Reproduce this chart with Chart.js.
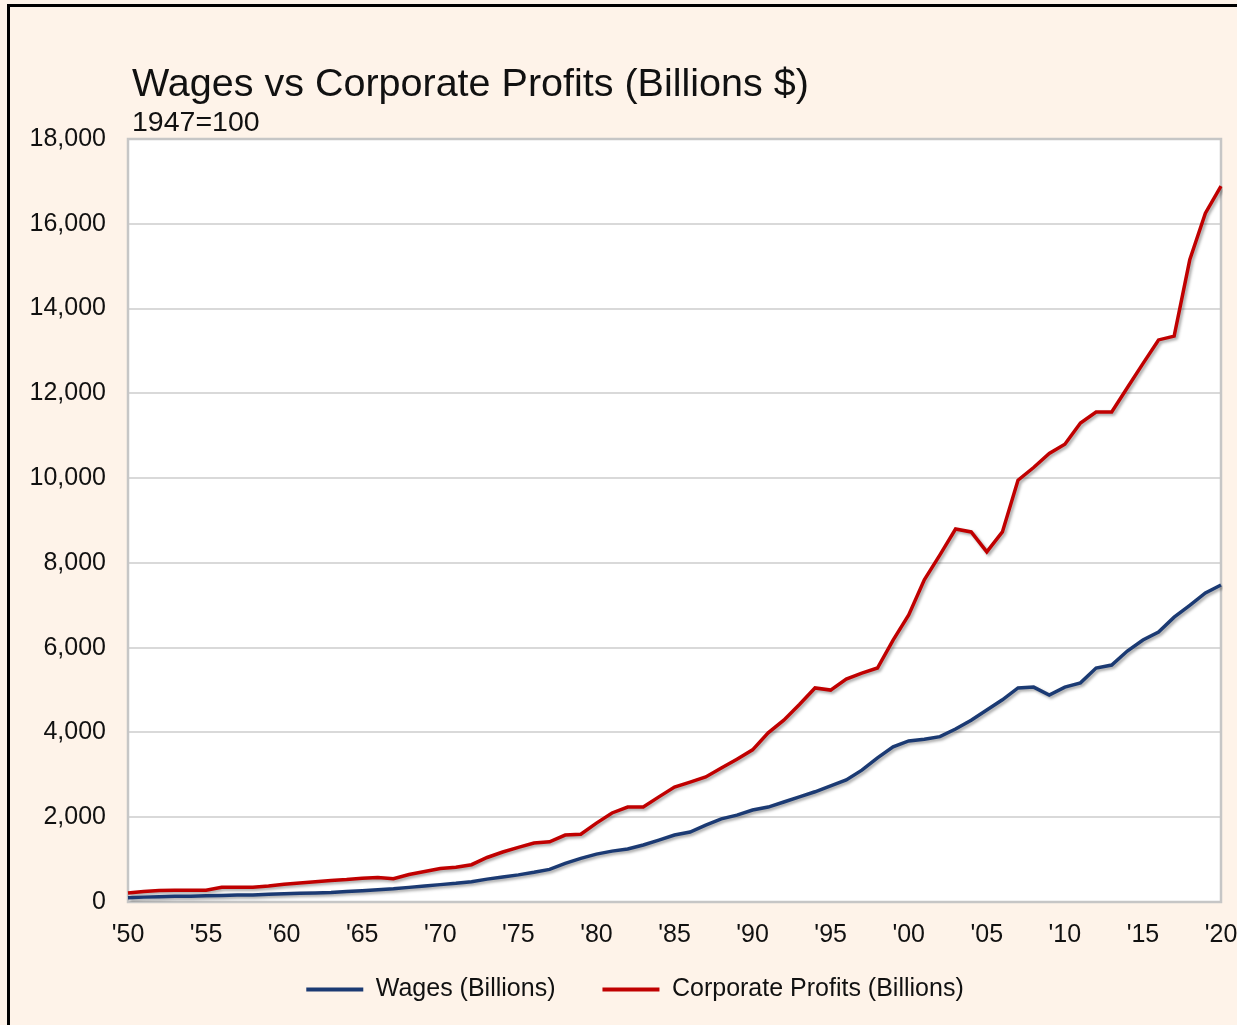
<!DOCTYPE html>
<html>
<head>
<meta charset="utf-8">
<script src="https://cdn.jsdelivr.net/npm/chart.js@4/dist/chart.umd.min.js"></script>
<style>
  html, body { margin: 0; padding: 0; overflow: hidden; background: #fef3e9; }
  body { width: 1237px; height: 1025px; position: relative; font-family: "Liberation Sans", Arial, sans-serif; }
  #frame { position: absolute; left: 7px; top: 4px; width: 1300px; height: 1100px; border-left: 3px solid #000; border-top: 3px solid #000; }
  #title { position: absolute; left: 132px; top: 63px; font-size: 39.5px; line-height: 1; color: #111; white-space: nowrap; }
  #subtitle { position: absolute; left: 132px; top: 107px; font-size: 28.5px; line-height: 1; color: #111; white-space: nowrap; }
  #wrap { position: absolute; left: 0; top: 0; width: 1260px; height: 1025px; }
</style>
</head>
<body>
<div id="frame"></div>
<div id="wrap"><canvas id="chart"></canvas></div>
<div id="title">Wages vs Corporate Profits (Billions $)</div>
<div id="subtitle">1947=100</div>
<script>
// years 1950..2020
const years = [];
for (let y = 1950; y <= 2020; y++) years.push(y);

const wages = [
  100, 115, 125, 135, 135, 145, 155, 165, 165, 180,
  195, 205, 215, 225, 245, 265, 290, 310, 345, 380,
  410, 440, 480, 540, 590, 640, 700, 770, 910, 1030,
  1130, 1200, 1250, 1345, 1460, 1580, 1650, 1815, 1960, 2050,
  2170, 2240, 2360, 2480, 2600, 2740, 2880, 3110, 3400, 3660,
  3800, 3840, 3900, 4080, 4290, 4530, 4770, 5050, 5070, 4880,
  5070, 5170, 5520, 5590, 5920, 6180, 6370, 6720, 7000, 7290,
  7480
];

const profits = [
  210, 250, 270, 280, 280, 280, 350, 350, 350, 380,
  420, 450, 480, 510, 530, 560, 580, 550, 650, 720,
  790, 820, 880, 1050, 1180, 1290, 1390, 1420, 1580, 1600,
  1860, 2100, 2240, 2240, 2480, 2710, 2830, 2950, 3160, 3370,
  3590, 3990, 4290, 4660, 5050, 5000, 5260, 5400, 5520, 6180,
  6770, 7600, 8190, 8800, 8730, 8260, 8730, 9950, 10250, 10580,
  10800, 11300, 11560, 11560, 12130, 12700, 13260, 13350, 15150, 16250,
  16890
];

const wageColor = '#1b3a73';
const profitColor = '#c00000';

// white plot area with grey frame
const plotFrame = {
  id: 'plotFrame',
  beforeDraw(chart) {
    const { ctx, chartArea: a } = chart;
    ctx.save();
    ctx.fillStyle = '#ffffff';
    ctx.fillRect(a.left, a.top, a.right - a.left, a.bottom - a.top);
    ctx.restore();
  },
  beforeDatasetsDraw(chart) {
    const { ctx, chartArea: a } = chart;
    ctx.save();
    ctx.strokeStyle = '#c6c6c6';
    ctx.lineWidth = 2.5;
    ctx.strokeRect(a.left, a.top, a.right - a.left, a.bottom - a.top);
    ctx.restore();
  }
};

// soft drop shadow under the lines
const lineShadow = {
  id: 'lineShadow',
  beforeDatasetDraw(chart) {
    const ctx = chart.ctx;
    ctx.save();
    ctx.shadowColor = 'rgba(0,0,0,0.35)';
    ctx.shadowBlur = 3;
    ctx.shadowOffsetX = 2;
    ctx.shadowOffsetY = 2;
  },
  afterDatasetDraw(chart) {
    chart.ctx.restore();
  }
};

// tick labels may spill outside their axis box
const noLabelClip = () => undefined;

new Chart(document.getElementById('chart'), {
  type: 'line',
  data: {
    labels: years,
    datasets: [
      {
        label: 'Wages (Billions)',
        data: wages,
        borderColor: wageColor,
        backgroundColor: wageColor,
        borderWidth: 3.5,
        pointRadius: 0,
        tension: 0
      },
      {
        label: 'Corporate Profits (Billions)',
        data: profits,
        borderColor: profitColor,
        backgroundColor: profitColor,
        borderWidth: 3.5,
        pointRadius: 0,
        tension: 0
      }
    ]
  },
  options: {
    responsive: true,
    maintainAspectRatio: false,
    animation: false,
    layout: { padding: { left: 49, right: 39, top: 139, bottom: 13 } },
    plugins: {
      title: { display: false },
      tooltip: { enabled: false },
      legend: {
        position: 'bottom',
        labels: {
          boxWidth: 57,
          boxHeight: 4,
          padding: 47,
          color: '#111',
          font: { family: 'Liberation Sans', size: 25 },
          generateLabels(chart) {
            const items = Chart.defaults.plugins.legend.labels.generateLabels(chart);
            items.forEach(it => { it.lineWidth = 0; });
            return items;
          }
        }
      }
    },
    scales: {
      x: {
        grid: { display: false, drawTicks: false },
        border: { display: false },
        ticks: {
          autoSkip: false,
          maxRotation: 0,
          padding: 18,
          color: '#111',
          font: { family: 'Liberation Sans', size: 25 },
          callback(val, idx) {
            const yr = years[idx];
            return yr % 5 === 0 ? "'" + String(yr).slice(2) : null;
          }
        },
        afterFit(scale) {
          scale.height = 28;
          scale._computeLabelArea = noLabelClip;
        }
      },
      y: {
        min: 0,
        max: 18000,
        grid: { color: '#d9d9d9', lineWidth: 2, drawTicks: false },
        border: { display: false },
        ticks: {
          stepSize: 2000,
          padding: 22,
          color: '#111',
          font: { family: 'Liberation Sans', size: 25 }
        },
        afterFit(scale) {
          scale.width = 79;
          scale._computeLabelArea = noLabelClip;
        }
      }
    }
  },
  plugins: [plotFrame, lineShadow]
});
</script>
</body>
</html>
